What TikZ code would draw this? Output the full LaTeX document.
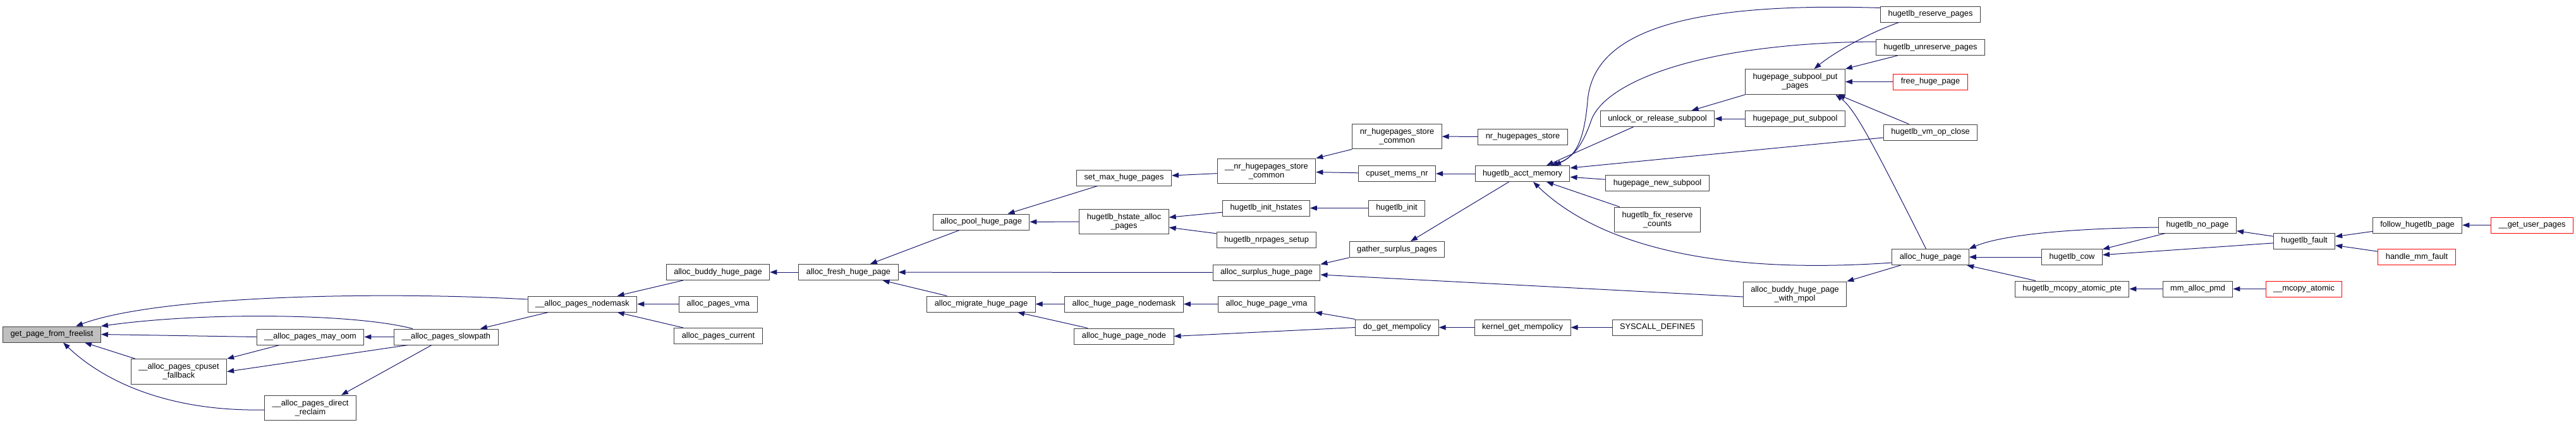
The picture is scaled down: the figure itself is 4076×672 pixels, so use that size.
\documentclass[tikz,border=0pt]{standalone}
\usepackage{fontspec}
\setmainfont{Liberation Sans}
\usepackage{tikz}
\usetikzlibrary{arrows.meta}
\definecolor{edgeblue}{HTML}{191970}

\begin{document}
\begin{tikzpicture}[
  x=1pt, y=-1pt,
  font=\fontsize{12.8}{14}\selectfont,
  boxbase/.style={draw=black!75, line width=1pt, fill=white, align=center, inner xsep=12pt, inner ysep=7pt, minimum height=25pt},
  box/.style={boxbase, text height=9.4pt, text depth=2.8pt, inner ysep=0pt},
  box2/.style={boxbase},
  redbox/.style={box, draw=red},
  rootbox/.style={box, fill=black!25},
  call/.style={-{Triangle[length=11pt,width=8pt]}, edgeblue, line width=1pt}
]
\useasboundingbox (0,0) rectangle (4076,672);

% columns left to right, one x per rank
\node[rootbox] (gpff) at (82,529.5) {get\_page\_from\_freelist};
\node[box2] (cpuset) at (283,588.5) {\_\_alloc\_pages\_cpuset\\\_fallback};
\node[box] (mayoom) at (491,533.5) {\_\_alloc\_pages\_may\_oom};
\node[box2] (reclaim) at (491,646) {\_\_alloc\_pages\_direct\\\_reclaim};
\node[box] (slowpath) at (706,533.5) {\_\_alloc\_pages\_slowpath};
\node[box] (nodemask) at (921.5,481.5) {\_\_alloc\_pages\_nodemask};

\node[box] (buddy) at (1136,431) {alloc\_buddy\_huge\_page};
\node[box] (pvma) at (1136.5,481.5) {alloc\_pages\_vma};
\node[box] (pcurrent) at (1136.5,532) {alloc\_pages\_current};
\node[box] (fresh) at (1342.5,431) {alloc\_fresh\_huge\_page};
\node[box] (pool) at (1552.5,351.5) {alloc\_pool\_huge\_page};
\node[box] (migrate) at (1552.5,481.5) {alloc\_migrate\_huge\_page};

\node[box] (setmax) at (1778.5,281.5) {set\_max\_huge\_pages};
\node[box2] (hstate) at (1778.5,351) {hugetlb\_hstate\_alloc\\\_pages};
\node[box] (hpnodemask) at (1778.5,481.5) {alloc\_huge\_page\_nodemask};
\node[box] (hpnode) at (1778.5,532.5) {alloc\_huge\_page\_node};

\node[box2] (nrcommon) at (2004,271) {\_\_nr\_hugepages\_store\\\_common};
\node[box] (inithst) at (2003.5,329.5) {hugetlb\_init\_hstates};
\node[box] (nrsetup) at (2004,380) {hugetlb\_nrpages\_setup};
\node[box] (surplus) at (2004,431.5) {alloc\_surplus\_huge\_page};
\node[box] (hpvma) at (2004,481.5) {alloc\_huge\_page\_vma};

\node[box2] (nrstorec) at (2210.5,216) {nr\_hugepages\_store\\\_common};
\node[box] (memsnr) at (2210.5,275) {cpuset\_mems\_nr};
\node[box] (tlbinit) at (2210,329.5) {hugetlb\_init};
\node[box] (gather) at (2210.5,395) {gather\_surplus\_pages};
\node[box] (domemp) at (2210.5,518.5) {do\_get\_mempolicy};

\node[box] (nrstore) at (2409.5,216.5) {nr\_hugepages\_store};
\node[box] (acct) at (2409,275) {hugetlb\_acct\_memory};
\node[box] (kmemp) at (2409,518.5) {kernel\_get\_mempolicy};

\node[box] (unlock) at (2622.5,188) {unlock\_or\_release\_subpool};
\node[box] (newsub) at (2622.5,290) {hugepage\_new\_subpool};
\node[box2] (fixres) at (2622.5,348) {hugetlb\_fix\_reserve\\\_counts};
\node[box] (sysdef) at (2622.5,518.5) {SYSCALL\_DEFINE5};

\node[box2] (spput) at (2840.5,129.5) {hugepage\_subpool\_put\\\_pages};
\node[box] (putsp) at (2840.5,188) {hugepage\_put\_subpool};
\node[box2] (buddympol) at (2840,466) {alloc\_buddy\_huge\_page\\\_with\_mpol};

\node[box] (reserve) at (3054.5,22.5) {hugetlb\_reserve\_pages};
\node[box] (unreserve) at (3054.5,75) {hugetlb\_unreserve\_pages};
\node[redbox] (freehp) at (3054.5,129.5) {free\_huge\_page};
\node[box] (vmclose) at (3054.5,209.5) {hugetlb\_vm\_op\_close};
\node[box] (allochp) at (3054.5,407) {alloc\_huge\_page};

\node[box] (cow) at (3278.5,407) {hugetlb\_cow};
\node[box] (mcopy) at (3278.5,457.5) {hugetlb\_mcopy\_atomic\_pte};
\node[box] (nopage) at (3477,356.5) {hugetlb\_no\_page};
\node[box] (pmd) at (3477.5,457.5) {mm\_alloc\_pmd};
\node[box] (fault) at (3646,381.5) {hugetlb\_fault};
\node[redbox] (mcopyat) at (3645.5,457.5) {\_\_mcopy\_atomic};
\node[box] (follow) at (3825,356.5) {follow\_hugetlb\_page};
\node[redbox] (handle) at (3824,407) {handle\_mm\_fault};
\node[redbox] (getuser) at (4006.5,356.5) {\_\_get\_user\_pages};

% callers of get_page_from_freelist
\draw[call] ([yshift=7.5pt]nodemask.west) .. controls (600,461) and (250,468) .. ([xshift=38pt]gpff.north);
\draw[call] ([xshift=-53pt]slowpath.north) .. controls (560,496) and (320,494) .. (gpff.north east);
\draw[call] (mayoom.west) -- (gpff.east);
\draw[call] ([xshift=-69pt]cpuset.north) -- ([xshift=52pt]gpff.south);
\draw[call] ([yshift=-3pt]reclaim.west) .. controls (260,652) and (160,600) .. ([xshift=18pt]gpff.south);

% page allocator
\draw[call] (slowpath) -- (mayoom);
\draw[call] ([xshift=-61pt]slowpath.south) -- (cpuset.east);
\draw[call] ([xshift=-49pt]mayoom.south) -- (cpuset.north east);
\draw[call] ([xshift=-23pt]slowpath.south) -- ([xshift=49pt]reclaim.north);
\draw[call] (nodemask) -- (slowpath);
\foreach \c in {buddy,pvma,pcurrent} \draw[call] (\c) -- (nodemask);

% huge page allocation
\draw[call] (fresh) -- (buddy);
\foreach \c in {pool,surplus,migrate} \draw[call] (\c) -- (fresh);
\draw[call] (setmax) -- (pool);
\draw[call] (hstate) -- (pool);
\draw[call] (nrcommon) -- (setmax);
\draw[call] (inithst) -- (hstate);
\draw[call] (nrsetup) -- (hstate);
\draw[call] (hpnodemask) -- (migrate);
\draw[call] (hpnode) -- (migrate);
\draw[call] (hpvma) -- (hpnodemask);
\draw[call] (domemp.west) -- (hpnode.east);
\draw[call] (domemp.north west) -- (hpvma.south east);
\draw[call] (nrstorec.south west) -- (nrcommon.north east);
\draw[call] (memsnr) -- (nrcommon);
\draw[call] (tlbinit) -- (inithst);
\draw[call] (gather.south west) -- (surplus.north east);
\draw[call] ([yshift=-4pt]buddympol.west) -- ([yshift=-3.5pt]surplus.east);
\draw[call] (nrstore) -- (nrstorec);
\draw[call] (acct) -- (memsnr);
\draw[call] (acct) -- (gather);
\draw[call] (kmemp) -- (domemp);
\draw[call] (sysdef) -- (kmemp);

% callers of hugetlb_acct_memory
\draw[call] ([yshift=10pt]reserve.west) .. controls (2640,2) and (2520,60) .. (2512,160) .. controls (2506,230) and (2490,248) .. ([xshift=50pt]acct.north);
\draw[call] ([yshift=9pt]unreserve.west) .. controls (2690,68) and (2540,130) .. (2518,190) .. controls (2505,228) and (2490,250) .. ([xshift=45pt]acct.north);
\draw[call] ([xshift=-38pt]unlock.south) -- ([xshift=38pt]acct.north);
\draw[call] (newsub) -- (acct);
\draw[call] (fixres) -- (acct);
\draw[call] ([yshift=-8.5pt]vmclose.west) -- ([yshift=9pt]acct.east);
\draw[call] ([yshift=-9pt]allochp.west) .. controls (2650,440) and (2500,360) .. ([xshift=17pt]acct.south);

% subpool
\draw[call] (spput.south west) -- ([xshift=54pt]unlock.north);
\draw[call] (putsp) -- (unlock);
\draw[call] ([xshift=-50pt]reserve.south) .. controls (2950,55) and (2900,85) .. ([xshift=30pt]spput.north);
\draw[call] ([xshift=-52pt]unreserve.south) -- (spput.north east);
\draw[call] (freehp) -- (spput);
\draw[call] ([xshift=-34pt]vmclose.north) -- ([xshift=68pt]spput.south);
\draw[call] ([xshift=-7pt]allochp.north) .. controls (2965,230) and (2935,172) .. ([xshift=64pt]spput.south);

% faults
\draw[call] ([xshift=-47pt]allochp.south) -- (buddympol.north east);
\draw[call] ([yshift=-3.5pt]nopage.west) .. controls (3250,362) and (3160,375) .. (allochp.north east);
\draw[call] (cow) -- (allochp);
\draw[call] (mcopy) -- (allochp);
\draw[call] (nopage) -- (cow);
\draw[call] (fault) -- (cow);
\draw[call] (pmd) -- (mcopy);
\draw[call] (mcopyat) -- (pmd);
\draw[call] (fault) -- (nopage);
\foreach \c in {follow,handle} \draw[call] (\c) -- (fault);
\draw[call] (getuser) -- (follow);
\end{tikzpicture}
\end{document}
